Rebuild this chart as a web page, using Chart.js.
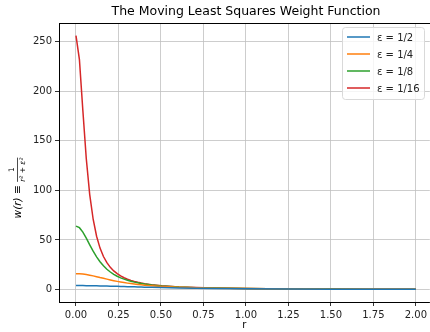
<!DOCTYPE html>
<html>
<head>
<meta charset="utf-8">
<script src="https://cdn.jsdelivr.net/npm/chart.js@4/dist/chart.umd.min.js"></script>
<style>
html,body{margin:0;padding:0;background:#fff;}
#wrap{width:430px;height:332px;position:relative;}
</style>
</head>
<body>
<div id="wrap"><canvas id="c" width="430" height="332"></canvas></div>
<script>
const r = [0, 0.0202, 0.0404, 0.0606, 0.0808, 0.1010, 0.1212, 0.1414, 0.1616, 0.1818, 0.2020, 0.2222, 0.2424, 0.2626, 0.2828, 0.3030, 0.3232, 0.3434, 0.3636, 0.3838, 0.4040, 0.4444, 0.5051, 0.6061, 0.7071, 0.8081, 1.0, 1.25, 1.5, 1.75, 2.0];
const wHalf = [4, 3.99, 3.97, 3.94, 3.90, 3.84, 3.78, 3.70, 3.62, 3.53, 3.44, 3.34, 3.24, 3.14, 3.03, 2.93, 2.82, 2.72, 2.62, 2.52, 2.42, 2.23, 1.98, 1.62, 1.33, 1.11, 0.80, 0.552, 0.40, 0.302, 0.235];
const wQuarter = [16, 15.9, 15.6, 15.1, 14.5, 13.8, 13.0, 12.1, 11.3, 10.5, 9.68, 8.94, 8.25, 7.61, 7.02, 6.48, 5.99, 5.54, 5.14, 4.77, 4.43, 3.85, 3.15, 2.33, 1.78, 1.40, 0.941, 0.615, 0.432, 0.32, 0.246];
const wEighth = [64, 62.4, 57.9, 51.8, 45.1, 38.7, 33.0, 28.1, 24.0, 20.5, 17.7, 15.4, 13.4, 11.8, 10.5, 9.31, 8.33, 7.49, 6.76, 6.14, 5.59, 4.69, 3.69, 2.61, 1.94, 1.50, 0.985, 0.634, 0.441, 0.325, 0.249];
const wSixteenth = [256, 231.8, 180.6, 131.9, 95.8, 70.9, 53.8, 41.8, 33.3, 27.1, 22.4, 18.8, 16.0, 13.7, 11.9, 10.4, 9.23, 8.21, 7.35, 6.61, 5.98, 4.96, 3.86, 2.69, 1.98, 1.52, 0.996, 0.638, 0.444, 0.326, 0.250];
const seriesLabels = ['\u03b5 = 1/2', '\u03b5 = 1/4', '\u03b5 = 1/8', '\u03b5 = 1/16'];
const xTicks = [0, 0.25, 0.5, 0.75, 1.0, 1.25, 1.5, 1.75, 2.0];
const yTicks = [0, 50, 100, 150, 200, 250];
const chartTitle = 'The Moving Least Squares Weight Function';

const colors = ['#1f77b4', '#ff7f0e', '#2ca02c', '#d62728'];
const allSeries = [wHalf, wQuarter, wEighth, wSixteenth];
const FONT = "'DejaVu Sans', sans-serif";

const datasets = allSeries.map((s, i) => ({
  label: seriesLabels[i],
  data: s.map((v, j) => ({x: r[j], y: v})),
  borderColor: colors[i],
  backgroundColor: colors[i],
  borderWidth: 1.5,
  pointRadius: 0,
  tension: 0,
  fill: false
}));

const framePlugin = {
  id: 'frame',
  afterDatasetsDraw(chart) {
    const {ctx, chartArea: a} = chart;
    ctx.save();
    ctx.strokeStyle = '#000';
    ctx.lineWidth = 1;
    ctx.beginPath();
    ctx.moveTo(Math.round(a.left) + 0.5, Math.round(a.top) + 0.5);
    ctx.lineTo(a.right + 5, Math.round(a.top) + 0.5);
    ctx.stroke();
    ctx.restore();
  },
  afterDraw(chart) {
    const {ctx} = chart;
    ctx.save();
    // title centered over the (full) axes
    ctx.fillStyle = '#000';
    ctx.font = "12.5px " + FONT;
    ctx.textAlign = 'center';
    ctx.textBaseline = 'middle';
    ctx.fillText(chartTitle, 246, 12);
    // legend inside the axes, upper right
    const x0 = 342, y0 = 27, w = 82, h = 72;
    ctx.textAlign = 'left';
    ctx.fillStyle = 'rgba(255,255,255,0.8)';
    ctx.strokeStyle = '#d9d9d9';
    ctx.lineWidth = 1;
    ctx.beginPath();
    if (ctx.roundRect) ctx.roundRect(x0 + 0.5, y0 + 0.5, w, h, 3); else ctx.rect(x0 + 0.5, y0 + 0.5, w, h);
    ctx.fill();
    ctx.stroke();
    ctx.font = "10px " + FONT;
    ctx.textBaseline = 'middle';
    chart.data.datasets.forEach((d, i) => {
      const yy = y0 + 10 + i * 17;
      ctx.strokeStyle = d.borderColor;
      ctx.lineWidth = 1.5;
      ctx.beginPath();
      ctx.moveTo(x0 + 5, yy);
      ctx.lineTo(x0 + 28, yy);
      ctx.stroke();
      ctx.fillStyle = '#222';
      ctx.fillText(d.label, x0 + 35, yy + 1);
    });
    // y axis title with fraction
    ctx.save();
    ctx.translate(17, 188);
    ctx.rotate(-Math.PI / 2);
    ctx.fillStyle = '#000';
    ctx.textBaseline = 'middle';
    ctx.font = "italic 10.5px " + FONT;
    const p1 = 'w(r) \u2261 ';
    const wA = ctx.measureText(p1).width;
    ctx.font = "italic 7.5px " + FONT;
    const den = 'r\u00b2 + \u03b5\u00b2';
    const wD = ctx.measureText(den).width;
    const total = wA + wD;
    let sx = -total / 2;
    ctx.font = "italic 10.5px " + FONT;
    ctx.textAlign = 'left';
    ctx.fillText(p1, sx, 1);
    sx += wA;
    ctx.font = "7.5px " + FONT;
    ctx.textAlign = 'center';
    ctx.fillText('1', sx + wD / 2, -4.5);
    ctx.font = "italic 7.5px " + FONT;
    ctx.fillText(den, sx + wD / 2, 6);
    ctx.strokeStyle = '#000';
    ctx.lineWidth = 0.7;
    ctx.beginPath();
    ctx.moveTo(sx, 0.5);
    ctx.lineTo(sx + wD, 0.5);
    ctx.stroke();
    ctx.restore();
    ctx.restore();
  }
};

new Chart(document.getElementById('c'), {
  type: 'line',
  data: {datasets},
  options: {
    responsive: false,
    animation: false,
    devicePixelRatio: 1,
    layout: {padding: {left: 0, right: 0, top: 23, bottom: 0}},
    plugins: {
      legend: {display: false},
      tooltip: {enabled: false},
      title: {display: false}
    },
    scales: {
      x: {
        type: 'linear',
        min: -0.1,
        max: 2.082,
        afterBuildTicks: (s) => { s.ticks = xTicks.map(v => ({value: v})); },
        afterFit: (s) => { s.height = 30; },
        ticks: {
          color: '#222',
          font: {family: FONT, size: 10},
          padding: 3,
          maxRotation: 0,
          autoSkip: false,
          callback: (v) => Number(v).toFixed(2)
        },
        grid: {color: '#c0c0c0', lineWidth: 0.8, tickColor: '#000', tickLength: 4, drawTicks: true},
        border: {color: '#000', width: 1},
        title: {display: true, text: 'r', color: '#000', font: {family: FONT, size: 10}, padding: {top: 0, bottom: 1}}
      },
      y: {
        type: 'linear',
        min: -12.55,
        max: 268.8,
        afterBuildTicks: (s) => { s.ticks = yTicks.map(v => ({value: v})); },
        afterFit: (s) => { s.width = 59; },
        ticks: {
          color: '#222',
          font: {family: FONT, size: 10},
          padding: 3,
          autoSkip: false
        },
        grid: {color: '#c0c0c0', lineWidth: 0.8, tickColor: '#000', tickLength: 4, drawTicks: true},
        border: {color: '#000', width: 1}
      }
    }
  },
  plugins: [framePlugin]
});
</script>
</body>
</html>
